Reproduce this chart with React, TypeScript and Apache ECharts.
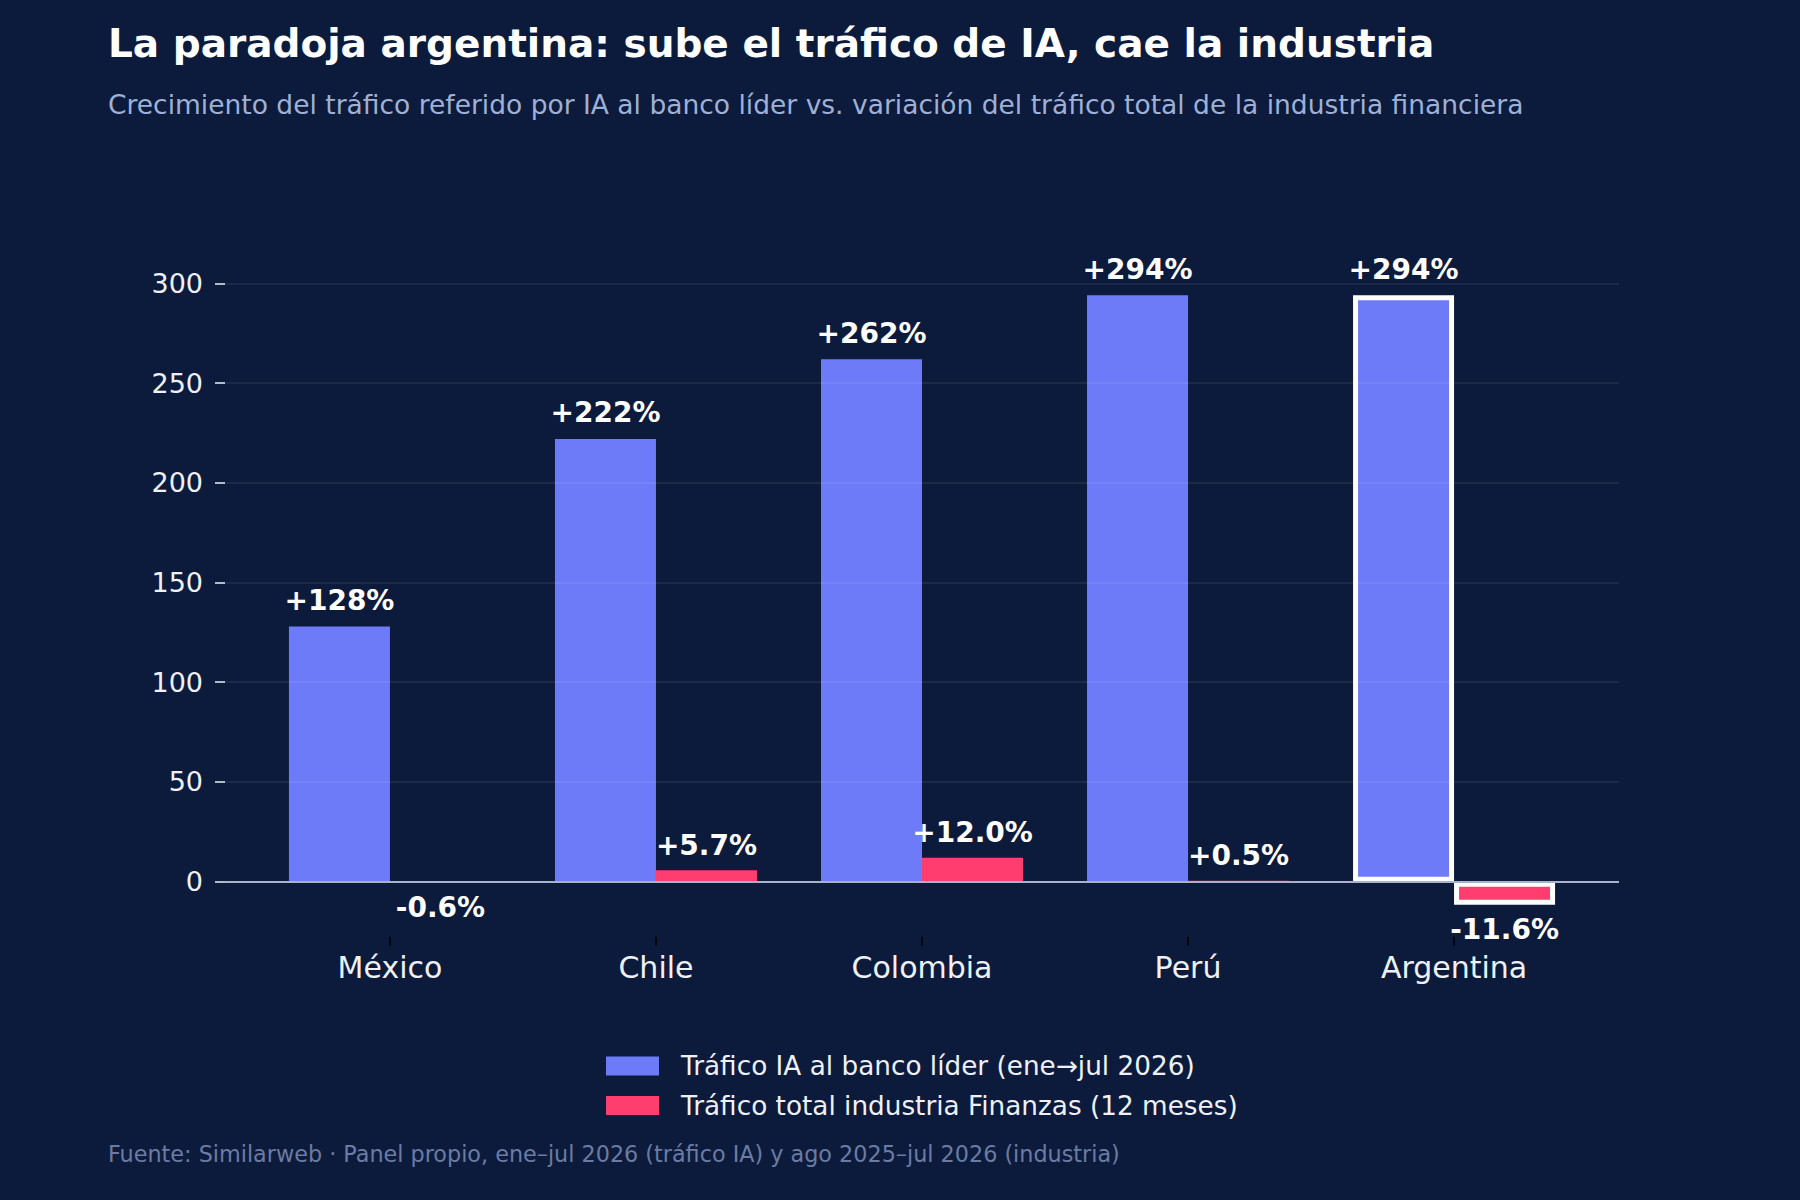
import React, { useEffect, useRef } from "react";
import * as echarts from "echarts";

const categories = ["México", "Chile", "Colombia", "Perú", "Argentina"];
const iaTraffic = [128, 222, 262, 294, 294];
const industryTraffic = [-0.6, 5.7, 12.0, 0.5, -11.6];
const yTicks = [0, 50, 100, 150, 200, 250, 300];
const highlight = "Argentina";

const seriesNames = [
  "Tráfico IA al banco líder (ene→jul 2026)",
  "Tráfico total industria Finanzas (12 meses)",
];

const titleText = "La paradoja argentina: sube el tráfico de IA, cae la industria";
const subtitleText =
  "Crecimiento del tráfico referido por IA al banco líder vs. variación del tráfico total de la industria financiera";
const footerText =
  "Fuente: Similarweb · Panel propio, ene–jul 2026 (tráfico IA) y ago 2025–jul 2026 (industria)";

const FONT = "'DejaVu Sans', sans-serif";
const BG = "#0c1b3b";
const BLUE = "#6e7bf9";
const PINK = "#ff3d6f";

const fmtSigned = (v: number, digits: number) =>
  (v > 0 ? "+" : "") + v.toFixed(digits) + "%";

const App: React.FC = () => {
  const chartRef = useRef<HTMLDivElement>(null);

  useEffect(() => {
    document.body.style.margin = "0";
    const chart = echarts.init(chartRef.current, null, { renderer: "svg" });

    // the highlighted country gets a white outline on both bars
    const hl = (i: number) =>
      categories[i] === highlight
        ? { borderColor: "#ffffff", borderWidth: 5 }
        : undefined;

    chart.setOption({
      animation: false,
      backgroundColor: BG,
      textStyle: { fontFamily: FONT },
      graphic: [
        {
          type: "text",
          left: 108,
          top: 47 - 23,
          style: {
            text: titleText,
            fill: "#ffffff",
            font: `bold 39px ${FONT}`,
          },
        },
        {
          type: "text",
          left: 108,
          top: 106 - 15,
          style: {
            text: subtitleText,
            fill: "#9fb0d6",
            font: `26.5px ${FONT}`,
          },
        },
        {
          type: "text",
          left: 108,
          top: 1156 - 13,
          style: {
            text: footerText,
            fill: "#6b7ba3",
            font: `22.3px ${FONT}`,
          },
        },
      ],
      legend: {
        orient: "vertical",
        left: 601,
        top: 1048,
        itemWidth: 53,
        itemHeight: 19,
        itemGap: 13.5,
        icon: "rect",
        data: seriesNames,
        textStyle: {
          color: "#eef1f7",
          fontSize: 26.3,
          fontFamily: FONT,
          padding: [0, 0, 0, 17],
        },
      },
      grid: { left: 225, right: 181, top: 236.7, bottom: 263.3 },
      xAxis: {
        type: "value",
        min: -0.62,
        max: 4.62,
        axisLine: { show: false, onZero: false },
        splitLine: { show: false },
        axisTick: {
          customValues: categories.map((_, i) => i),
          length: 9,
          lineStyle: { color: "#000000", width: 1.5 },
        },
        axisLabel: {
          customValues: categories.map((_, i) => i),
          formatter: (v: number) => categories[Math.round(v)] ?? "",
          color: "#eef1f7",
          fontSize: 30,
          fontFamily: FONT,
          margin: 16,
        },
      },
      yAxis: {
        type: "value",
        min: -27.6,
        max: 323.4,
        splitNumber: 7,
        z: 3,
        axisLine: { show: false, onZero: false },
        axisTick: {
          customValues: yTicks,
          length: 10,
          lineStyle: { color: "#eef1f7", width: 1.5 },
        },
        axisLabel: {
          customValues: yTicks,
          color: "#eef1f7",
          fontSize: 27,
          fontFamily: FONT,
          margin: 22,
        },
        splitLine: {
          show: true,
          lineStyle: { color: "rgba(255,255,255,0.09)", width: 1.5 },
        },
      },
      series: [
        {
          name: seriesNames[0],
          type: "bar",
          barWidth: 101,
          barGap: "0%",
          itemStyle: { color: BLUE },
          data: iaTraffic.map((v, i) => ({ value: [i, v], itemStyle: hl(i) })),
          label: {
            show: true,
            position: "outside",
            distance: 12,
            color: "#ffffff",
            fontWeight: "bold",
            fontSize: 28,
            fontFamily: FONT,
            formatter: (p: any) => fmtSigned(p.value[1], 0),
          },
        },
        {
          name: seriesNames[1],
          type: "bar",
          barWidth: 101,
          barGap: "0%",
          itemStyle: { color: PINK },
          data: industryTraffic.map((v, i) => ({
            value: [i, v],
            itemStyle: hl(i),
          })),
          label: {
            show: true,
            position: "outside",
            distance: 11,
            color: "#ffffff",
            fontWeight: "bold",
            fontSize: 28,
            fontFamily: FONT,
            formatter: (p: any) => fmtSigned(p.value[1], 1),
          },
          markLine: {
            silent: true,
            symbol: ["none", "none"],
            label: { show: false },
            lineStyle: { color: "#a8b2ca", width: 2, type: "solid" },
            data: [{ yAxis: 0 }],
          },
        },
      ],
    });

    return () => {
      chart.dispose();
    };
  }, []);

  return (
    <div
      ref={chartRef}
      style={{ position: "absolute", left: 0, top: 0, width: 1800, height: 1200 }}
    ></div>
  );
};

export default App;
